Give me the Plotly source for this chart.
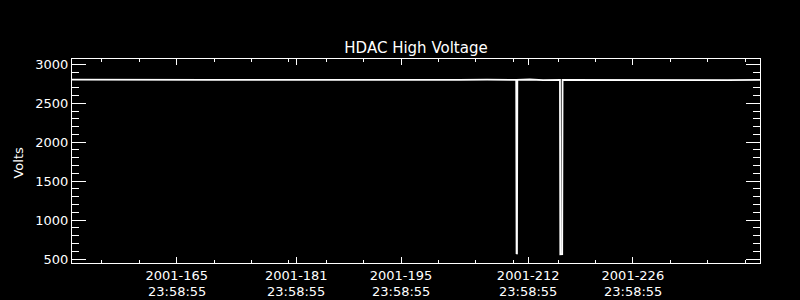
import plotly.graph_objects as go

# Time in day-of-year 2001 (fractional days)
times = [152.0, 155.3, 158.7, 162.1, 166.4, 170.2, 174.8, 178.5, 183.1, 187.6,
         191.2, 195.9, 199.4, 203.8, 207.5, 211.40, 211.45, 211.50, 211.55, 213.2,
         215.0, 217.25, 217.30, 217.55, 217.60, 219.8, 223.4, 227.1, 231.6, 235.2,
         239.7, 244.0]
volts = [2803, 2801, 2798, 2800, 2802, 2799, 2801, 2800, 2797, 2800,
         2802, 2801, 2799, 2800, 2803, 2800, 564, 570, 2800, 2805,
         2797, 2800, 560, 562, 2801, 2800, 2799, 2802, 2800, 2801,
         2798, 2800]

x_tick_vals = [166.0, 182.0, 196.0, 213.0, 227.0]
x_tick_dates = ["2001-165", "2001-181", "2001-195", "2001-212", "2001-226"]
x_tick_times = ["23:58:55", "23:58:55", "23:58:55", "23:58:55", "23:58:55"]
x_minor_vals = [156, 161, 171, 176, 181, 186, 191, 201, 206, 211, 217, 222, 232, 237, 242]
y_tick_vals = [500, 1000, 1500, 2000, 2500, 3000]

fig = go.Figure()
fig.add_trace(go.Scatter(x=times, y=volts, mode="lines",
                         line=dict(color="white", width=1.8), showlegend=False))

font = dict(family="DejaVu Sans", size=13, color="white")

annotations = [dict(text="Volts", textangle=-90, xref="paper", yref="paper",
                    x=(18.5 - 72) / 688, y=0.49, xanchor="center", yanchor="middle",
                    showarrow=False, font=font)]
for xv, tt in zip(x_tick_vals, x_tick_times):
    annotations.append(dict(text=tt, xref="x", yref="paper", x=xv, y=-28 / 204,
                            xanchor="center", yanchor="middle", showarrow=False,
                            font=font))

fig.update_layout(
    width=800, height=300,
    paper_bgcolor="black", plot_bgcolor="black",
    margin=dict(l=72, r=40, t=59, b=37),
    font=font,
    title=dict(text="HDAC High Voltage", x=0.52, xanchor="center",
               y=1 - 48 / 300, yanchor="middle", yref="container",
               font=dict(family="DejaVu Sans", size=15, color="white")),
    xaxis=dict(range=[152, 244], showgrid=False, zeroline=False, automargin=False,
               showline=True, linecolor="white", linewidth=1, mirror="allticks",
               ticks="inside", ticklen=6, tickwidth=1, tickcolor="white",
               tickmode="array", tickvals=x_tick_vals, ticktext=x_tick_dates,
               minor=dict(tickmode="array", tickvals=x_minor_vals, ticks="inside",
                          ticklen=3, tickcolor="white", tickwidth=1, showgrid=False)),
    yaxis=dict(range=[449, 3068], showgrid=False, zeroline=False, automargin=False,
               showline=True, linecolor="white", linewidth=1, mirror="allticks",
               ticks="inside", ticklen=14, tickwidth=1, tickcolor="white",
               tickmode="array", tickvals=y_tick_vals,
               minor=dict(dtick=100, tick0=0, ticks="inside", ticklen=7,
                          tickcolor="white", tickwidth=1, showgrid=False)),
    annotations=annotations,
)

fig.write_html("out.html")
